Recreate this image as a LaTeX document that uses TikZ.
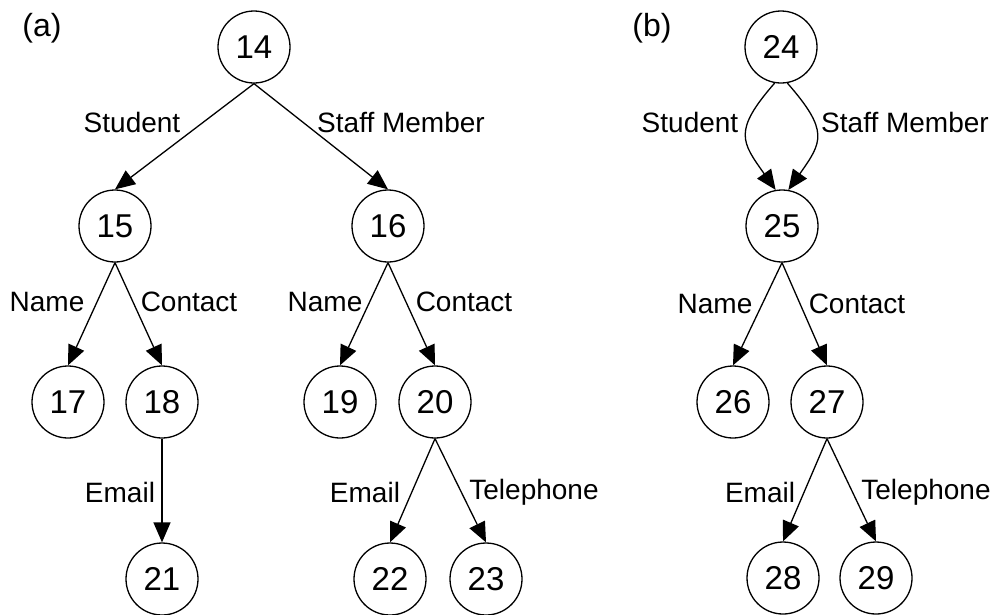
\documentclass[tikz,border=0pt]{standalone}
\usepackage{fontspec}
\setmainfont{Liberation Sans}
\usetikzlibrary{arrows.meta}
\begin{document}
\begin{tikzpicture}[x=1pt,y=-1pt,
  vertex/.style={draw, circle, line width=1.3pt, minimum size=72pt, inner sep=0pt,
    font=\fontsize{33}{36}\selectfont},
  arr/.style={line width=1.3pt, -{Triangle[length=20pt,width=17pt]}},
  elabel/.style={inner sep=0pt, font=\fontsize{28}{32}\selectfont},
  panel/.style={inner sep=0pt, font=\fontsize{32}{36}\selectfont}]
\useasboundingbox (0,0) rectangle (1000,614);

% panel (a): tree
\node[panel] (pa) at (42,28) {(a)};
\node[vertex] (n14) at (254,47) {14};
\node[vertex] (n15) at (115,226) {15};
\node[vertex] (n16) at (388,226) {16};
\node[vertex] (n17) at (68,402) {17};
\node[vertex] (n18) at (162,402) {18};
\node[vertex] (n19) at (340,402) {19};
\node[vertex] (n20) at (435,402) {20};
\node[vertex] (n21) at (162,579) {21};
\node[vertex] (n22) at (390,579) {22};
\node[vertex] (n23) at (486,579) {23};

\draw[arr] (n14.south) -- (n15.north);
\draw[arr] (n14.south) -- (n16.north);
\draw[arr] (n15.south) -- (n17.north);
\draw[arr] (n15.south) -- (n18.north);
\draw[arr] (n16.south) -- (n19.north);
\draw[arr] (n16.south) -- (n20.north);
\draw[arr] (n18.south) -- (n21.north);
\draw[arr] (n20.south) -- (n22.north);
\draw[arr] (n20.south) -- (n23.north);

\node[elabel] (la1) at (132,122) {Student};
\node[elabel] (la2) at (401,122) {Staff Member};
\node[elabel] (la3) at (47,302) {Name};
\node[elabel] (la4) at (189,302) {Contact};
\node[elabel] (la5) at (325,302) {Name};
\node[elabel] (la6) at (464,302) {Contact};
\node[elabel] (la7) at (120,492) {Email};
\node[elabel] (la8) at (365,492) {Email};
\node[elabel] (la9) at (534,492) {Telephone};

% panel (b): shared subtree
\node[panel] (pb) at (652,28) {(b)};
\node[vertex] (n24) at (781,47) {24};
\node[vertex] (n25) at (782,226) {25};
\node[vertex] (n26) at (733,402) {26};
\node[vertex] (n27) at (827,402) {27};
\node[vertex] (n28) at (783,578) {28};
\node[vertex] (n29) at (876,578) {29};

\draw[arr] (n24.260) .. controls +(-42,48) and +(-34,-48) .. (n25.100);
\draw[arr] (n24.280) .. controls +(42,48) and +(34,-48) .. (n25.80);
\draw[arr] (n25.south) -- (n26.north);
\draw[arr] (n25.south) -- (n27.north);
\draw[arr] (n27.south) -- (n28.north);
\draw[arr] (n27.south) -- (n29.north);

\node[elabel] (lb1) at (690,122) {Student};
\node[elabel] (lb2) at (905,122) {Staff Member};
\node[elabel] (lb3) at (715,304) {Name};
\node[elabel] (lb4) at (857,304) {Contact};
\node[elabel] (lb5) at (760,492) {Email};
\node[elabel] (lb6) at (926,492) {Telephone};
\end{tikzpicture}
\end{document}
